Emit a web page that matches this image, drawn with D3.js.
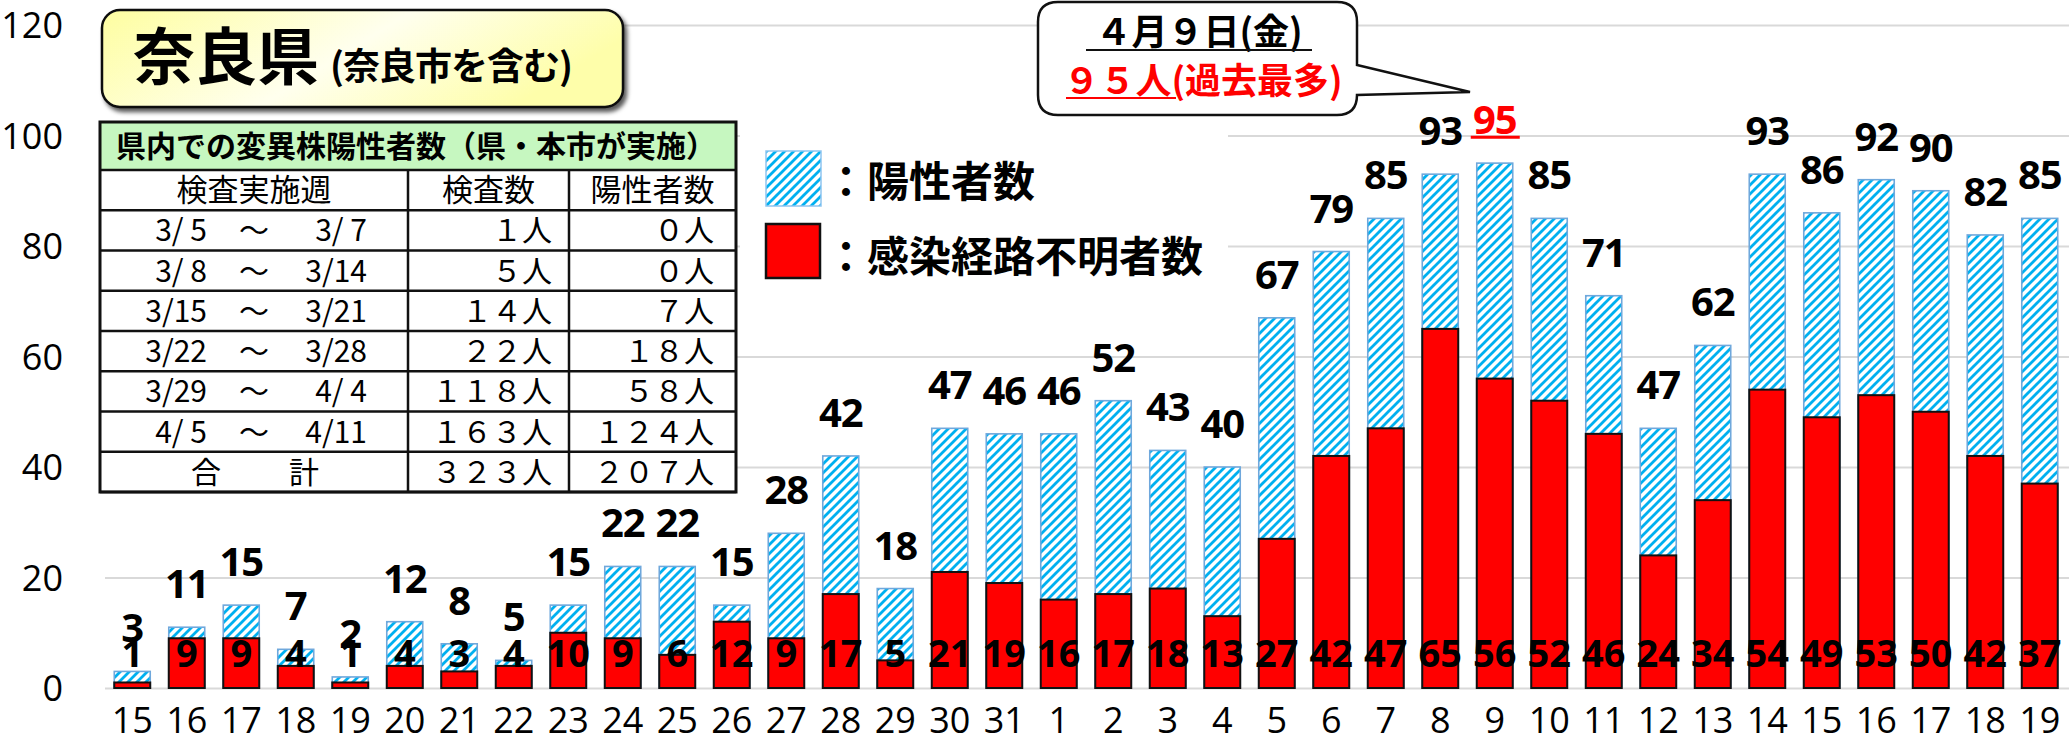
<!DOCTYPE html>
<html>
<head>
<meta charset="utf-8">
<script src="https://cdn.jsdelivr.net/npm/d3@7"></script>
<style>
  html, body { margin: 0; padding: 0; background: #fff; }
  svg { display: block; }
  .num { font-family: "Open Sans", "Noto Sans", sans-serif; }
  .jp { font-family: "Noto Sans CJK JP", "Noto Sans", sans-serif; }
</style>
</head>
<body>
<svg id="chart" width="2069" height="745"></svg>
<script>
// ---- data ----
var days = ["15","16","17","18","19","20","21","22","23","24","25","26","27","28","29","30","31",
            "1","2","3","4","5","6","7","8","9","10","11","12","13","14","15","16","17","18","19"];
var totalCases = [3, 11, 15, 7, 2, 12, 8, 5, 15, 22, 22, 15, 28, 42, 18, 47, 46,
                  46, 52, 43, 40, 67, 79, 85, 93, 95, 85, 71, 47, 62, 93, 86, 92, 90, 82, 85];
var unknownRoute = [1, 9, 9, 4, 1, 4, 3, 4, 10, 9, 6, 12, 9, 17, 5, 21, 19,
                    16, 17, 18, 13, 27, 42, 47, 65, 56, 52, 46, 24, 34, 54, 49, 53, 50, 42, 37];
var yTicks = [0, 20, 40, 60, 80, 100, 120];
var peakIndex = 25; // 4/9

var tableTitle = "県内での変異株陽性者数（県・本市が実施）";
var tableColumns = ["検査実施週", "検査数", "陽性者数"];
var tableWeekFrom = ["3/ 5", "3/ 8", "3/15", "3/22", "3/29", "4/ 5"];
var tableWeekTo   = ["3/ 7", "3/14", "3/21", "3/28", "4/ 4", "4/11"];
var tableTests     = ["１人", "５人", "１４人", "２２人", "１１８人", "１６３人", "３２３人"];
var tablePositives = ["０人", "０人", "７人", "１８人", "５８人", "１２４人", "２０７人"];

var svg = d3.select("#chart"),
    left = 105, right = 2067,
    zeroY = 688, topY = 25;

var x = d3.scaleBand().domain(d3.range(days.length)).range([left, right])
    .paddingInner(0.34).paddingOuter(0.17);
var y = d3.scaleLinear().domain([0, 120]).range([zeroY, topY]);

var defs = svg.append("defs");
var pat = defs.append("pattern")
    .attr("id", "hatch")
    .attr("patternUnits", "userSpaceOnUse")
    .attr("width", 9).attr("height", 9);
pat.append("rect").attr("width", 9).attr("height", 9).attr("fill", "#fff");
pat.append("path")
    .attr("d", "M-2,2 L2,-2 M0,9 L9,0 M7,11 L11,7")
    .attr("stroke", "#00b0f0").attr("stroke-width", 2.8);

var shadow = defs.append("filter").attr("id", "shadow")
    .attr("x", "-10%").attr("y", "-10%").attr("width", "120%").attr("height", "130%");
shadow.append("feDropShadow").attr("dx", 3).attr("dy", 4).attr("stdDeviation", 2)
    .attr("flood-color", "#000").attr("flood-opacity", 0.65);

var grad = defs.append("linearGradient").attr("id", "titleFill")
    .attr("x1", "0").attr("y1", "0").attr("x2", "1").attr("y2", "0.3");
grad.append("stop").attr("offset", "0%").attr("stop-color", "#fefea0");
grad.append("stop").attr("offset", "55%").attr("stop-color", "#ffffee");
grad.append("stop").attr("offset", "100%").attr("stop-color", "#fefeaa");

// gridlines
svg.append("g")
    .attr("transform", "translate(" + left + ",0)")
    .call(d3.axisLeft(y).tickValues(yTicks).tickSize(-(2069 - left)).tickFormat(""))
    .call(function(g) {
      g.select(".domain").remove();
      g.selectAll(".tick line").attr("stroke", "#d9d9d9").attr("stroke-width", 2);
    });

// y axis labels
svg.append("g")
    .attr("transform", "translate(63,0)")
    .call(d3.axisLeft(y).tickValues(yTicks).tickSize(0).tickPadding(0))
    .call(function(g) {
      g.select(".domain").remove();
      g.selectAll("text").attr("class", "num").attr("font-size", 36)
        .attr("fill", "#000").attr("dy", "0.36em");
    });

// x axis labels
svg.append("g")
    .attr("transform", "translate(0," + zeroY + ")")
    .call(d3.axisBottom(x).tickSize(0).tickFormat(function(i) { return days[i]; }))
    .call(function(g) {
      g.select(".domain").remove();
      g.selectAll("text").attr("class", "num").attr("font-size", 36)
        .attr("fill", "#000").attr("y", 45).attr("dy", 0);
    });

// bars
var bars = svg.append("g");
bars.selectAll(".total")
    .data(totalCases)
  .enter().append("rect")
    .attr("class", "total")
    .attr("x", function(d, i) { return x(i); })
    .attr("y", function(d) { return y(d); })
    .attr("width", x.bandwidth())
    .attr("height", function(d) { return zeroY - y(d); })
    .attr("fill", "url(#hatch)")
    .attr("stroke", "#6fa8dc").attr("stroke-width", 1.6);

bars.selectAll(".unknown")
    .data(unknownRoute)
  .enter().append("rect")
    .attr("class", "unknown")
    .attr("x", function(d, i) { return x(i); })
    .attr("y", function(d) { return y(d); })
    .attr("width", x.bandwidth())
    .attr("height", function(d) { return zeroY - y(d); })
    .attr("fill", "#ff0000")
    .attr("stroke", "#111").attr("stroke-width", 2);

// inner labels (unknown route)
svg.append("g").selectAll("text")
    .data(unknownRoute)
  .enter().append("text")
    .attr("x", function(d, i) { return x(i) + x.bandwidth() / 2; })
    .attr("y", 667)
    .attr("text-anchor", "middle")
    .attr("font-family", "'Liberation Sans Narrow', 'Open Sans', sans-serif")
    .attr("font-weight", "bold")
    .attr("font-size", 38)
    .attr("fill", "#000")
    .text(function(d) { return d; });

// total labels
svg.append("g").selectAll("text")
    .data(totalCases)
  .enter().append("text")
    .attr("class", "num")
    .attr("x", function(d, i) { return x(i) + x.bandwidth() / 2; })
    .attr("y", function(d) { return y(d) - 29; })
    .attr("text-anchor", "middle")
    .attr("font-weight", "bold")
    .attr("font-size", 40)
    .attr("letter-spacing", -1)
    .attr("fill", function(d, i) { return i === peakIndex ? "#ff0000" : "#000"; })
    .text(function(d) { return d; });

// red underline under peak
svg.append("line")
    .attr("x1", x(peakIndex) + x.bandwidth() / 2 - 24)
    .attr("x2", x(peakIndex) + x.bandwidth() / 2 + 25)
    .attr("y1", y(totalCases[peakIndex]) - 26)
    .attr("y2", y(totalCases[peakIndex]) - 26)
    .attr("stroke", "#ff0000").attr("stroke-width", 3);

// ---- title box ----
svg.append("rect")
    .attr("x", 102).attr("y", 10).attr("width", 521).attr("height", 97)
    .attr("rx", 18)
    .attr("fill", "url(#titleFill)")
    .attr("stroke", "#111").attr("stroke-width", 2.5)
    .attr("filter", "url(#shadow)");
svg.append("text").attr("class", "jp")
    .attr("x", 133).attr("y", 80)
    .attr("font-size", 62).attr("font-weight", "bold")
    .text("奈良県");
svg.append("text").attr("class", "jp")
    .attr("x", 330).attr("y", 80)
    .attr("font-size", 37).attr("font-weight", "bold")
    .attr("letter-spacing", -1)
    .text("(奈良市を含む)");

// ---- table ----
var tX = 100, tW = 636, col1 = 408, col2 = 569,
    tTop = 122, headH = 48, rowH = 40.25;
var table = svg.append("g").attr("class", "jp");
table.append("rect").attr("x", tX).attr("y", tTop).attr("width", tW)
    .attr("height", headH + rowH * 8).attr("fill", "#fff");
table.append("rect").attr("x", tX).attr("y", tTop).attr("width", tW)
    .attr("height", headH).attr("fill", "#c6f7c0");
table.append("text")
    .attr("x", 116).attr("y", tTop + headH / 2 + 11)
    .attr("font-size", 30).attr("font-weight", "bold")
    .text(tableTitle);

var r0 = tTop + headH;
function rowMid(i) { return r0 + rowH * i + rowH / 2 + 11; }

table.selectAll(".colhead")
    .data(tableColumns)
  .enter().append("text")
    .attr("x", function(d, i) { return [(tX + col1) / 2, (col1 + col2) / 2, (col2 + tX + tW) / 2][i]; })
    .attr("y", rowMid(0))
    .attr("text-anchor", "middle")
    .attr("font-size", 31)
    .text(function(d) { return d; });

tableWeekFrom.forEach(function(d, i) {
  table.append("text").attr("x", 207).attr("y", rowMid(i + 1))
      .attr("text-anchor", "end").attr("font-size", 30)
      .style("white-space", "pre").text(d);
  table.append("text").attr("x", 254).attr("y", rowMid(i + 1))
      .attr("text-anchor", "middle").attr("font-size", 30).text("～");
  table.append("text").attr("x", 367).attr("y", rowMid(i + 1))
      .attr("text-anchor", "end").attr("font-size", 30)
      .style("white-space", "pre").text(tableWeekTo[i]);
});
table.append("text").attr("x", 206).attr("y", rowMid(7))
    .attr("text-anchor", "middle").attr("font-size", 30).text("合");
table.append("text").attr("x", 304).attr("y", rowMid(7))
    .attr("text-anchor", "middle").attr("font-size", 30).text("計");

table.selectAll(".tests")
    .data(tableTests)
  .enter().append("text")
    .attr("x", 552).attr("y", function(d, i) { return rowMid(i + 1); })
    .attr("text-anchor", "end").attr("font-size", 30)
    .text(function(d) { return d; });
table.selectAll(".pos")
    .data(tablePositives)
  .enter().append("text")
    .attr("x", 714).attr("y", function(d, i) { return rowMid(i + 1); })
    .attr("text-anchor", "end").attr("font-size", 30)
    .text(function(d) { return d; });

// table lines
var lines = table.append("g").attr("stroke", "#111").attr("stroke-width", 2.5);
d3.range(9).forEach(function(i) {
  var yy = r0 + rowH * i;
  lines.append("line").attr("x1", tX).attr("x2", tX + tW).attr("y1", yy).attr("y2", yy);
});
[col1, col2].forEach(function(cx) {
  lines.append("line").attr("x1", cx).attr("x2", cx).attr("y1", r0).attr("y2", r0 + rowH * 8);
});
table.append("rect").attr("x", tX).attr("y", tTop).attr("width", tW)
    .attr("height", headH + rowH * 8).attr("fill", "none")
    .attr("stroke", "#111").attr("stroke-width", 3);

// ---- legend ----
var legend = svg.append("g").attr("class", "jp");
legend.append("rect").attr("x", 740).attr("y", 118).attr("width", 488).attr("height", 174).attr("fill", "#fff");
legend.append("rect").attr("x", 766).attr("y", 151).attr("width", 55).attr("height", 55)
    .attr("fill", "url(#hatch)").attr("stroke", "#8ec5f0").attr("stroke-width", 1.5);
legend.append("rect").attr("x", 766).attr("y", 224).attr("width", 54).attr("height", 54)
    .attr("fill", "#ff0000").attr("stroke", "#111").attr("stroke-width", 2.5);
legend.append("text").attr("x", 825).attr("y", 197)
    .attr("font-size", 42).attr("font-weight", "bold").text("：陽性者数");
legend.append("text").attr("x", 825).attr("y", 272)
    .attr("font-size", 42).attr("font-weight", "bold").text("：感染経路不明者数");

// ---- callout ----
var callout = svg.append("g").attr("class", "jp");
callout.append("path")
    .attr("d", "M1058,2 H1337 Q1357,2 1357,22 V65 L1470,92 L1357,95 Q1357,115 1337,115 H1058 Q1038,115 1038,95 V22 Q1038,2 1058,2 Z")
    .attr("fill", "#fff").attr("stroke", "#111").attr("stroke-width", 2.5);
callout.append("text").attr("x", 1199).attr("y", 45)
    .attr("text-anchor", "middle").attr("font-size", 36).attr("font-weight", "bold")
    .text("４月９日(金)");
callout.append("line").attr("x1", 1086).attr("x2", 1312).attr("y1", 50).attr("y2", 50)
    .attr("stroke", "#111").attr("stroke-width", 2);
callout.append("text").attr("x", 1203).attr("y", 94)
    .attr("text-anchor", "middle").attr("font-size", 36).attr("font-weight", "bold")
    .attr("fill", "#ff0000")
    .text("９５人(過去最多)");
callout.append("line").attr("x1", 1066).attr("x2", 1176).attr("y1", 98).attr("y2", 98)
    .attr("stroke", "#ff0000").attr("stroke-width", 2);
</script>
</body>
</html>
